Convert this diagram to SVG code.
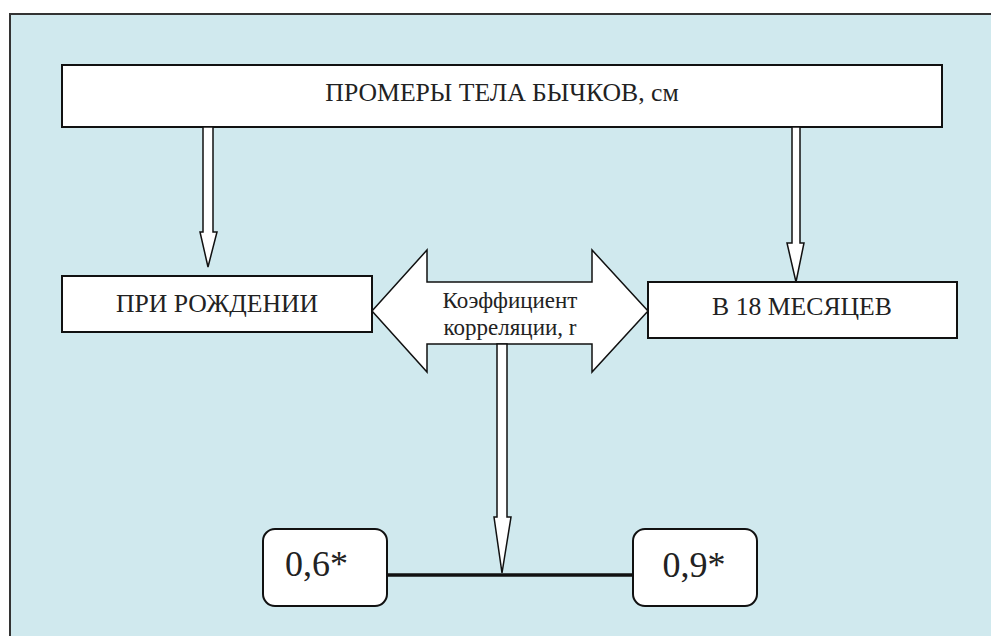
<svg xmlns="http://www.w3.org/2000/svg" width="991" height="636" viewBox="0 0 991 636">
<style>
.box{fill:#fff;stroke:#111;stroke-width:2}
.arr{fill:#fff;stroke:#111;stroke-width:1.5;stroke-linejoin:miter}
text{font-family:'Liberation Serif','DejaVu Serif',serif;fill:#222}
</style>
<rect x="0" y="0" width="991" height="636" fill="#fff"/>
<rect x="10" y="14" width="990" height="640" fill="#d0e9ee" stroke="#333" stroke-width="2"/>
<g id="title">
<rect class="box" x="62" y="65" width="880" height="62"/>
<text x="502" y="101" font-size="25.7" text-anchor="middle">ПРОМЕРЫ ТЕЛА БЫЧКОВ, см</text>
</g>
<g id="birth">
<rect class="box" x="62" y="276" width="310" height="56"/>
<text x="217" y="312" font-size="25.7" text-anchor="middle">ПРИ РОЖДЕНИИ</text>
</g>
<g id="months18">
<rect class="box" x="648" y="282" width="309" height="56"/>
<text x="802" y="315" font-size="25.7" text-anchor="middle">В 18 МЕСЯЦЕВ</text>
</g>
<g id="coef">
<polygon class="arr" points="372,311 427,250 427,282 592,282 592,250 648,311 592,372 592,344 427,344 427,372"/>
<text x="510" y="308" font-size="23" text-anchor="middle">Коэффициент</text>
<text x="510" y="335" font-size="23" text-anchor="middle">корреляции, r</text>
</g>
<g id="v06">
<rect class="box" x="263" y="529" width="124" height="77" rx="12"/>
<text x="285" y="576" font-size="36">0,6*</text>
</g>
<g id="v09">
<rect class="box" x="633" y="529" width="124" height="77" rx="12"/>
<text x="694" y="577" font-size="36" text-anchor="middle">0,9*</text>
</g>
<g id="connectors">
<polygon class="arr" points="203,127 213,127 213,232 217,232 208,267 200,232 203,232"/>
<polygon class="arr" points="792,127 800,127 800,243 804,243 796,282 787,243 792,243"/>
<line x1="387" y1="575" x2="633" y2="575" stroke="#111" stroke-width="3.5"/>
<polygon class="arr" points="497,344 507,344 507,517 511,517 502,573 494,517 497,517"/>
</g>
</svg>
